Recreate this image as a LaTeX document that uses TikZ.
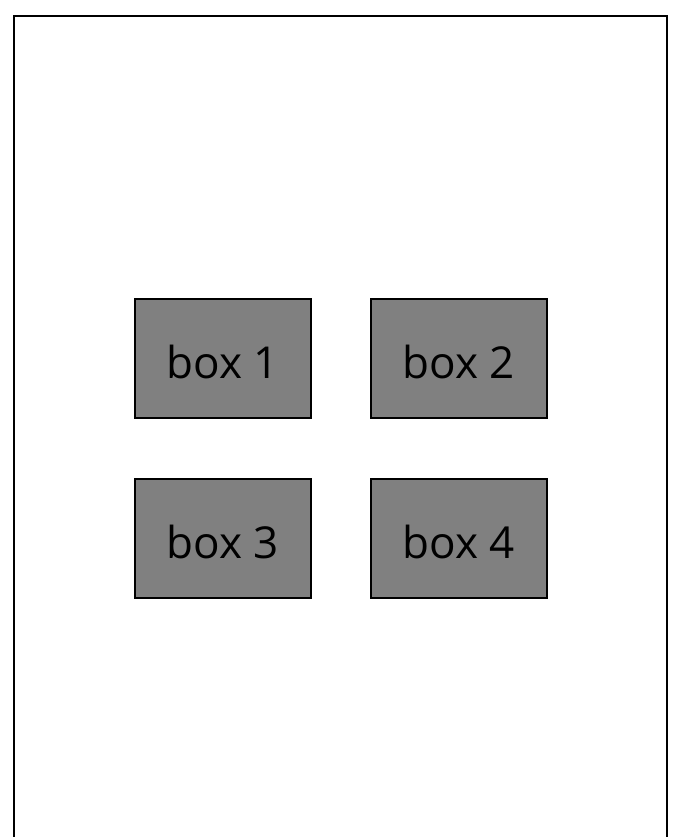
\documentclass[tikz,border=0pt]{standalone}
\usepackage{fontspec}
\setmainfont{Open Sans}
\begin{document}
\begin{tikzpicture}[x=1pt,y=-1pt,
  boxnode/.style={draw=black, line width=2pt, fill={rgb,255:red,128;green,128;blue,128},
    minimum width=176pt, minimum height=119pt, inner sep=0pt, text height=40pt, text depth=0pt,
    font=\fontsize{44}{52}\selectfont, text=black}]
\useasboundingbox (0,0) rectangle (674,837);
\draw[line width=2pt] (14,840) -- (14,16) -- (667,16) -- (667,840);
\node[boxnode] (b1) at (222.5,358) {box 1};
\node[boxnode] (b2) at (458.5,358) {box 2};
\node[boxnode] (b3) at (222.5,538) {box 3};
\node[boxnode] (b4) at (458.5,538) {box 4};
\end{tikzpicture}
\end{document}
